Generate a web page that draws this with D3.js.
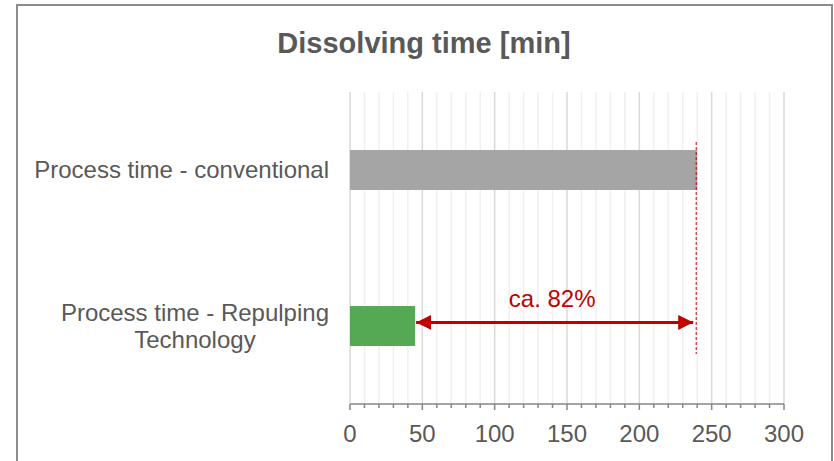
<!DOCTYPE html>
<html>
<head>
<meta charset="utf-8">
<script src="https://cdn.jsdelivr.net/npm/d3@7"></script>
<style>
  html, body { margin: 0; padding: 0; background: #fff; }
  svg { display: block; font-family: "Liberation Sans", Arial, sans-serif; }
</style>
</head>
<body>
<svg id="chart" width="834" height="461"></svg>
<script>
// chart data
const title = "Dissolving time [min]";
const categories = [
  ["Process time - conventional"],
  ["Process time - Repulping", "Technology"]
];
const values = [240, 45];
const barColors = ["#a5a5a5", "#55a854"];
const xTicks = [0, 50, 100, 150, 200, 250, 300];
const annotationText = "ca. 82%";

const textColor = "#595959";
const red = "#c00000";

const svg = d3.select("#chart");

// outer frame
svg.append("rect")
  .attr("x", 17)
  .attr("y", 5)
  .attr("width", 815)
  .attr("height", 480)
  .attr("fill", "#fff")
  .attr("stroke", "#8c8c8c")
  .attr("stroke-width", 2);

const x = d3.scaleLinear().domain([0, 300]).range([350, 784]);
const keys = categories.map((d) => d.join(" "));
const y = d3.scaleBand()
  .domain(keys)
  .range([92, 404])
  .paddingInner(0.744)
  .paddingOuter(0.372);

// gridlines: minor every 10, major every 50
const minor = d3.range(0, 301, 10);
svg.append("g")
  .selectAll("line")
  .data(minor)
  .join("line")
  .attr("x1", (d) => x(d))
  .attr("x2", (d) => x(d))
  .attr("y1", 92)
  .attr("y2", 404)
  .attr("stroke", (d) => (d % 50 === 0 ? "#d9d9d9" : "#f0f0f0"))
  .attr("stroke-width", 1.5);

// bars
svg.append("g")
  .selectAll("rect")
  .data(values)
  .join("rect")
  .attr("x", x(0))
  .attr("y", (d, i) => y(keys[i]))
  .attr("width", (d) => x(d) - x(0))
  .attr("height", y.bandwidth())
  .attr("fill", (d, i) => barColors[i]);

// x axis
const axis = svg.append("g");
axis.append("line")
  .attr("x1", x(0))
  .attr("x2", x(300))
  .attr("y1", 404)
  .attr("y2", 404)
  .attr("stroke", "#868686")
  .attr("stroke-width", 1.5);
axis.selectAll("line.tick")
  .data(minor)
  .join("line")
  .attr("class", "tick")
  .attr("x1", (d) => x(d))
  .attr("x2", (d) => x(d))
  .attr("y1", 404)
  .attr("y2", (d) => (d % 50 === 0 ? 410 : 408))
  .attr("stroke", "#868686")
  .attr("stroke-width", 1.5);
axis.selectAll("text")
  .data(xTicks)
  .join("text")
  .attr("x", (d) => x(d))
  .attr("y", 442)
  .attr("text-anchor", "middle")
  .attr("font-size", 24)
  .attr("fill", textColor)
  .text((d) => d);

// category labels, wrapped lines centered on their block, block right aligned
categories.forEach((lines, i) => {
  const cy = y(keys[i]) + y.bandwidth() / 2;
  const g = svg.append("g");
  const texts = g.selectAll("text")
    .data(lines)
    .join("text")
    .attr("font-size", 24)
    .attr("fill", textColor)
    .attr("text-anchor", "middle")
    .attr("y", (d, j) => cy + 8 + (j - (lines.length - 1) / 2) * 27)
    .text((d) => d);
  const maxW = d3.max(texts.nodes(), (n) => n.getComputedTextLength());
  texts.attr("x", 329 - maxW / 2);
});

// title
svg.append("text")
  .attr("x", 424)
  .attr("y", 53)
  .attr("text-anchor", "middle")
  .attr("font-size", 29)
  .attr("font-weight", "bold")
  .attr("fill", textColor)
  .text(title);

// annotation: dashed reference line at conventional value
const refX = x(values[0]) - 1;
svg.append("line")
  .attr("x1", refX)
  .attr("x2", refX)
  .attr("y1", 142)
  .attr("y2", 354)
  .attr("stroke", red)
  .attr("stroke-width", 1)
  .attr("stroke-dasharray", "3,2");

// double arrow between the two values
const defs = svg.append("defs");
["start", "end"].forEach((k) => {
  defs.append("marker")
    .attr("id", "arrow-" + k)
    .attr("viewBox", "0 0 10 10")
    .attr("refX", 10)
    .attr("refY", 5)
    .attr("markerUnits", "userSpaceOnUse")
    .attr("markerWidth", 15)
    .attr("markerHeight", 16)
    .attr("orient", k === "start" ? "auto-start-reverse" : "auto")
    .append("path")
    .attr("d", "M0,0 L10,5 L0,10 Z")
    .attr("fill", red);
});
const arrowY = y(keys[1]) + y.bandwidth() * 0.41;
svg.append("line")
  .attr("x1", x(values[1]) + 1)
  .attr("x2", x(values[0]) - 4)
  .attr("y1", arrowY)
  .attr("y2", arrowY)
  .attr("stroke", red)
  .attr("stroke-width", 3)
  .attr("marker-start", "url(#arrow-start)")
  .attr("marker-end", "url(#arrow-end)");

svg.append("text")
  .attr("x", (x(values[0]) + x(values[1])) / 2 - 4)
  .attr("y", 307)
  .attr("text-anchor", "middle")
  .attr("font-size", 24)
  .attr("fill", red)
  .text(annotationText);
</script>
</body>
</html>
